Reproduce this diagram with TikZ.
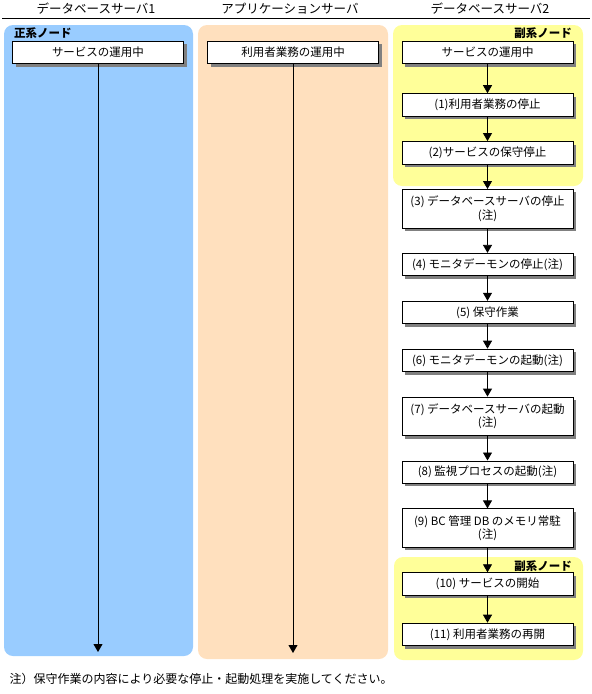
\documentclass[tikz,border=0pt]{standalone}
\usepackage{fontspec}
\setmainfont{Noto Sans CJK JP}
\usetikzlibrary{positioning,arrows.meta,shadows}
\definecolor{mainblue}{RGB}{153,204,255}
\definecolor{appbeige}{RGB}{255,224,190}
\definecolor{subyellow}{RGB}{255,255,153}

\begin{document}
\begin{tikzpicture}[x=1pt, y=-1pt, node distance=24.5pt, every node/.style={font=\fontsize{11.5}{13.5}\selectfont}]
  \tikzset{
    task/.style={draw, line width=0.9pt, fill=white, minimum width=171pt, minimum height=22.5pt, inner sep=1pt, align=center,
      drop shadow={shadow xshift=3pt, shadow yshift=-3pt, fill=black!50, opacity=1}},
    tall/.style={task, minimum height=38.5pt},
    panel/.style={rounded corners=9pt},
    arr/.style={-{Triangle[length=8pt, width=9pt]}, line width=0.8pt},
    head/.style={font=\fontsize{12.5}{14}\selectfont},
    role/.style={font=\fontsize{11.5}{13.5}\selectfont\bfseries, inner sep=0pt}
  }
  \useasboundingbox (0,0) rectangle (592,694);

  % column headers
  \node[head] (hdb1) at (96,9) {データベースサーバ1};
  \node[head] (happ) at (290,9) {アプリケーションサーバ};
  \node[head] (hdb2) at (490,9) {データベースサーバ2};
  \draw[line width=0.8pt] (2,18) -- (590,18);

  % background panels
  \fill[mainblue, panel] (4,25) rectangle (193,656);
  \fill[appbeige, panel] (198,25) rectangle (388,659);
  \fill[subyellow, panel] (393,25) rectangle (583,186);
  \fill[subyellow, panel] (394,557) rectangle (583,660);

  \node[role, anchor=west] (main) at (14,33) {正系ノード};
  \node[role, anchor=east] (sub1) at (572,33) {副系ノード};
  \node[role, anchor=east] (sub2) at (572,566) {副系ノード};

  % server 1 and application server
  \node[task] (run1) at (98,52.5) {サービスの運用中};
  \node[task] (run2) at (293,52.5) {利用者業務の運用中};
  \coordinate (end1) at (98,652);
  \coordinate (end2) at (293,653);
  \draw[arr] (run1) -- (end1);
  \draw[arr] (run2) -- (end2);

  % server 2 steps
  \node[task] (s0) at (487.5,52.5) {サービスの運用中};
  \node[task, below=29pt of s0] (s1) {(1)利用者業務の停止};
  \node[task, below=of s1] (s2) {(2)サービスの保守停止};
  \node[tall, below=of s2] (s3) {(3) データベースサーバの停止\\(注)};
  \node[task, below=of s3] (s4) {(4) モニタデーモンの停止(注)};
  \node[task, below=of s4] (s5) {(5) 保守作業};
  \node[task, below=of s5] (s6) {(6) モニタデーモンの起動(注)};
  \node[tall, below=of s6] (s7) {(7) データベースサーバの起動\\(注)};
  \node[task, below=of s7] (s8) {(8) 監視プロセスの起動(注)};
  \node[tall, below=of s8] (s9) {(9) BC 管理 DB のメモリ常駐\\(注)};
  \node[task, below=of s9] (s10) {(10) サービスの開始};
  \node[task, below=27pt of s10] (s11) {(11) 利用者業務の再開};
  \foreach \a/\b in {s0/s1, s1/s2, s2/s3, s3/s4, s4/s5, s5/s6, s6/s7, s7/s8, s8/s9, s9/s10, s10/s11}
    \draw[arr] (\a) -- (\b);

  \node[anchor=west, font=\fontsize{12}{14}\selectfont] (note) at (6,679) {注）保守作業の内容により必要な停止・起動処理を実施してください。};
\end{tikzpicture}
\end{document}
